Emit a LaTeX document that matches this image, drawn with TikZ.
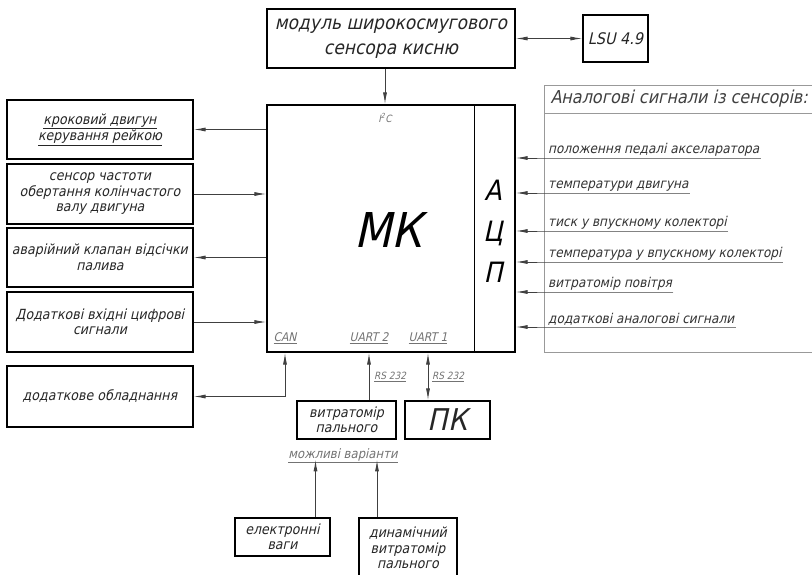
\documentclass[tikz,border=0pt]{standalone}
\usepackage{fontspec}
\setmainfont{DejaVu Sans Condensed}[FakeSlant=0.22]
\usetikzlibrary{arrows.meta}

\begin{document}
\begin{tikzpicture}[x=1pt,y=-1pt,
  >={Latex[length=12pt,width=4pt]},
  box/.style={draw, line width=1.1pt, align=center, inner sep=0pt, text=black!85},
  lnk/.style={draw=black!75, line width=1pt},
  txt/.style={font=\fontsize{14}{15.5}\selectfont},
  port/.style={text=black!55, inner sep=1pt, font=\fontsize{12}{13}\selectfont},
  sig/.style={anchor=south west, inner xsep=1pt, inner ysep=1pt, text=black!80,
    font=\fontsize{13.5}{15}\selectfont}]
  \useasboundingbox (0,0) rectangle (812,574);

  % lambda sensor
  \node[box, minimum width=248, minimum height=59, font=\fontsize{19}{25}\selectfont] (oxy) at (391,38.5) {модуль широкосмугового\\сенсора кисню};
  \node[box, minimum width=65, minimum height=47, font=\fontsize{16}{18}\selectfont] (lsu) at (615.5,38.5) {LSU 4.9};
  \draw[lnk,<->] (oxy.east) -- (lsu.west);

  % microcontroller
  \node[box, minimum width=248, minimum height=247] (mk) at (391,228.5) {};
  \draw[line width=1.1pt] ([xshift=-41]mk.north east) -- ([xshift=-41]mk.south east);
  \node[font=\fontsize{48}{50}\selectfont] (mkname) at (388,230) {МК};
  \node[align=center, font=\fontsize{28}{41}\selectfont] (adc) at (493,231) {А\\Ц\\П};
  \node[port, font=\fontsize{10}{11}\selectfont] (i2c) at (385,118) {I\textsuperscript{2}C};
  \draw[lnk,->] (oxy.south -| i2c) -- (mk.north -| i2c);

  % left side
  \node[box, txt, minimum width=186, minimum height=59] (step) at (100,129.5) {\underline{кроковий двигун}\\\underline{керування рейкою}};
  \node[box, txt, minimum width=186, minimum height=60] (rpm) at (100,194) {сенсор частоти\\обертання колінчастого\\валу двигуна};
  \node[box, txt, minimum width=186, minimum height=59] (valve) at (100,257.5) {аварійний клапан відсічки\\палива};
  \node[box, txt, minimum width=186, minimum height=60] (digin) at (100,322) {Додаткові вхідні цифрові\\сигнали};
  \node[box, txt, minimum width=186, minimum height=61] (extra) at (100,396.5) {додаткове обладнання};
  \draw[lnk,->] (mk.west |- step) -- (step.east);
  \draw[lnk,->] (rpm.east) -- (mk.west |- rpm);
  \draw[lnk,->] (mk.west |- valve) -- (valve.east);
  \draw[lnk,->] (digin.east) -- (mk.west |- digin);

  % analog inputs
  \draw[black!40, line width=0.6pt] (544,85) rectangle (830,352);
  \draw[black!40, line width=0.6pt] (544,113) -- (830,113);
  \node[anchor=west, text=black!75, font=\fontsize{17.8}{19}\selectfont] (head) at (547,99) {Аналогові сигнали із сенсорів:};
  \foreach \y/\lbl/\nm in {158/{положення педалі акселаратора}/s1,
                           193/{температури двигуна}/s2,
                           231/{тиск у впускному колекторі}/s3,
                           262/{температура у впускному колекторі}/s4,
                           292/{витратомір повітря}/s5,
                           327/{додаткові аналогові сигнали}/s6} {
    \node[sig] (\nm) at (547,\y) {\lbl};
    \draw[lnk,->] (\nm.south east) -- (\nm.south west) -- (\nm.south -| mk.east);
  }

  % bottom ports
  \node[port] (can) at (285,338) {\underline{CAN}};
  \node[port] (uart2) at (369,338) {\underline{UART 2}};
  \node[port] (uart1) at (428,338) {\underline{UART 1}};
  \draw[lnk,<->] (extra.east) -| (can |- mk.south);

  \node[box, txt, minimum width=99, minimum height=38] (flow) at (346.5,420) {витратомір\\пального};
  \node[box, minimum width=85, minimum height=38, font=\fontsize{30}{32}\selectfont] (pc) at (447.5,420) {ПК};
  \draw[lnk,->] (flow.north -| uart2) -- (mk.south -| uart2);
  \draw[lnk,<->] (mk.south -| uart1) -- (pc.north -| uart1);
  \node[port, font=\fontsize{10}{11}\selectfont] (rs2) at (390,377) {\underline{RS 232}};
  \node[port, font=\fontsize{10}{11}\selectfont] (rs1) at (448,377) {\underline{RS 232}};

  % variants
  \node[port, font=\fontsize{13}{14}\selectfont] (var) at (343,456) {\underline{можливі варіанти}};
  \node[box, txt, minimum width=95, minimum height=38] (scale) at (282.5,537) {електронні\\ваги};
  \node[box, txt, minimum width=98, minimum height=60] (dyn) at (408,548) {динамічний\\витратомір\\пального};
  \coordinate (scaletop) at ([xshift=33]scale.north);
  \coordinate (dyntop) at ([xshift=-31]dyn.north);
  \draw[lnk,->] (scaletop) -- ([yshift=5]scaletop |- var.south);
  \draw[lnk,->] (dyntop) -- ([yshift=5]dyntop |- var.south);
\end{tikzpicture}
\end{document}
